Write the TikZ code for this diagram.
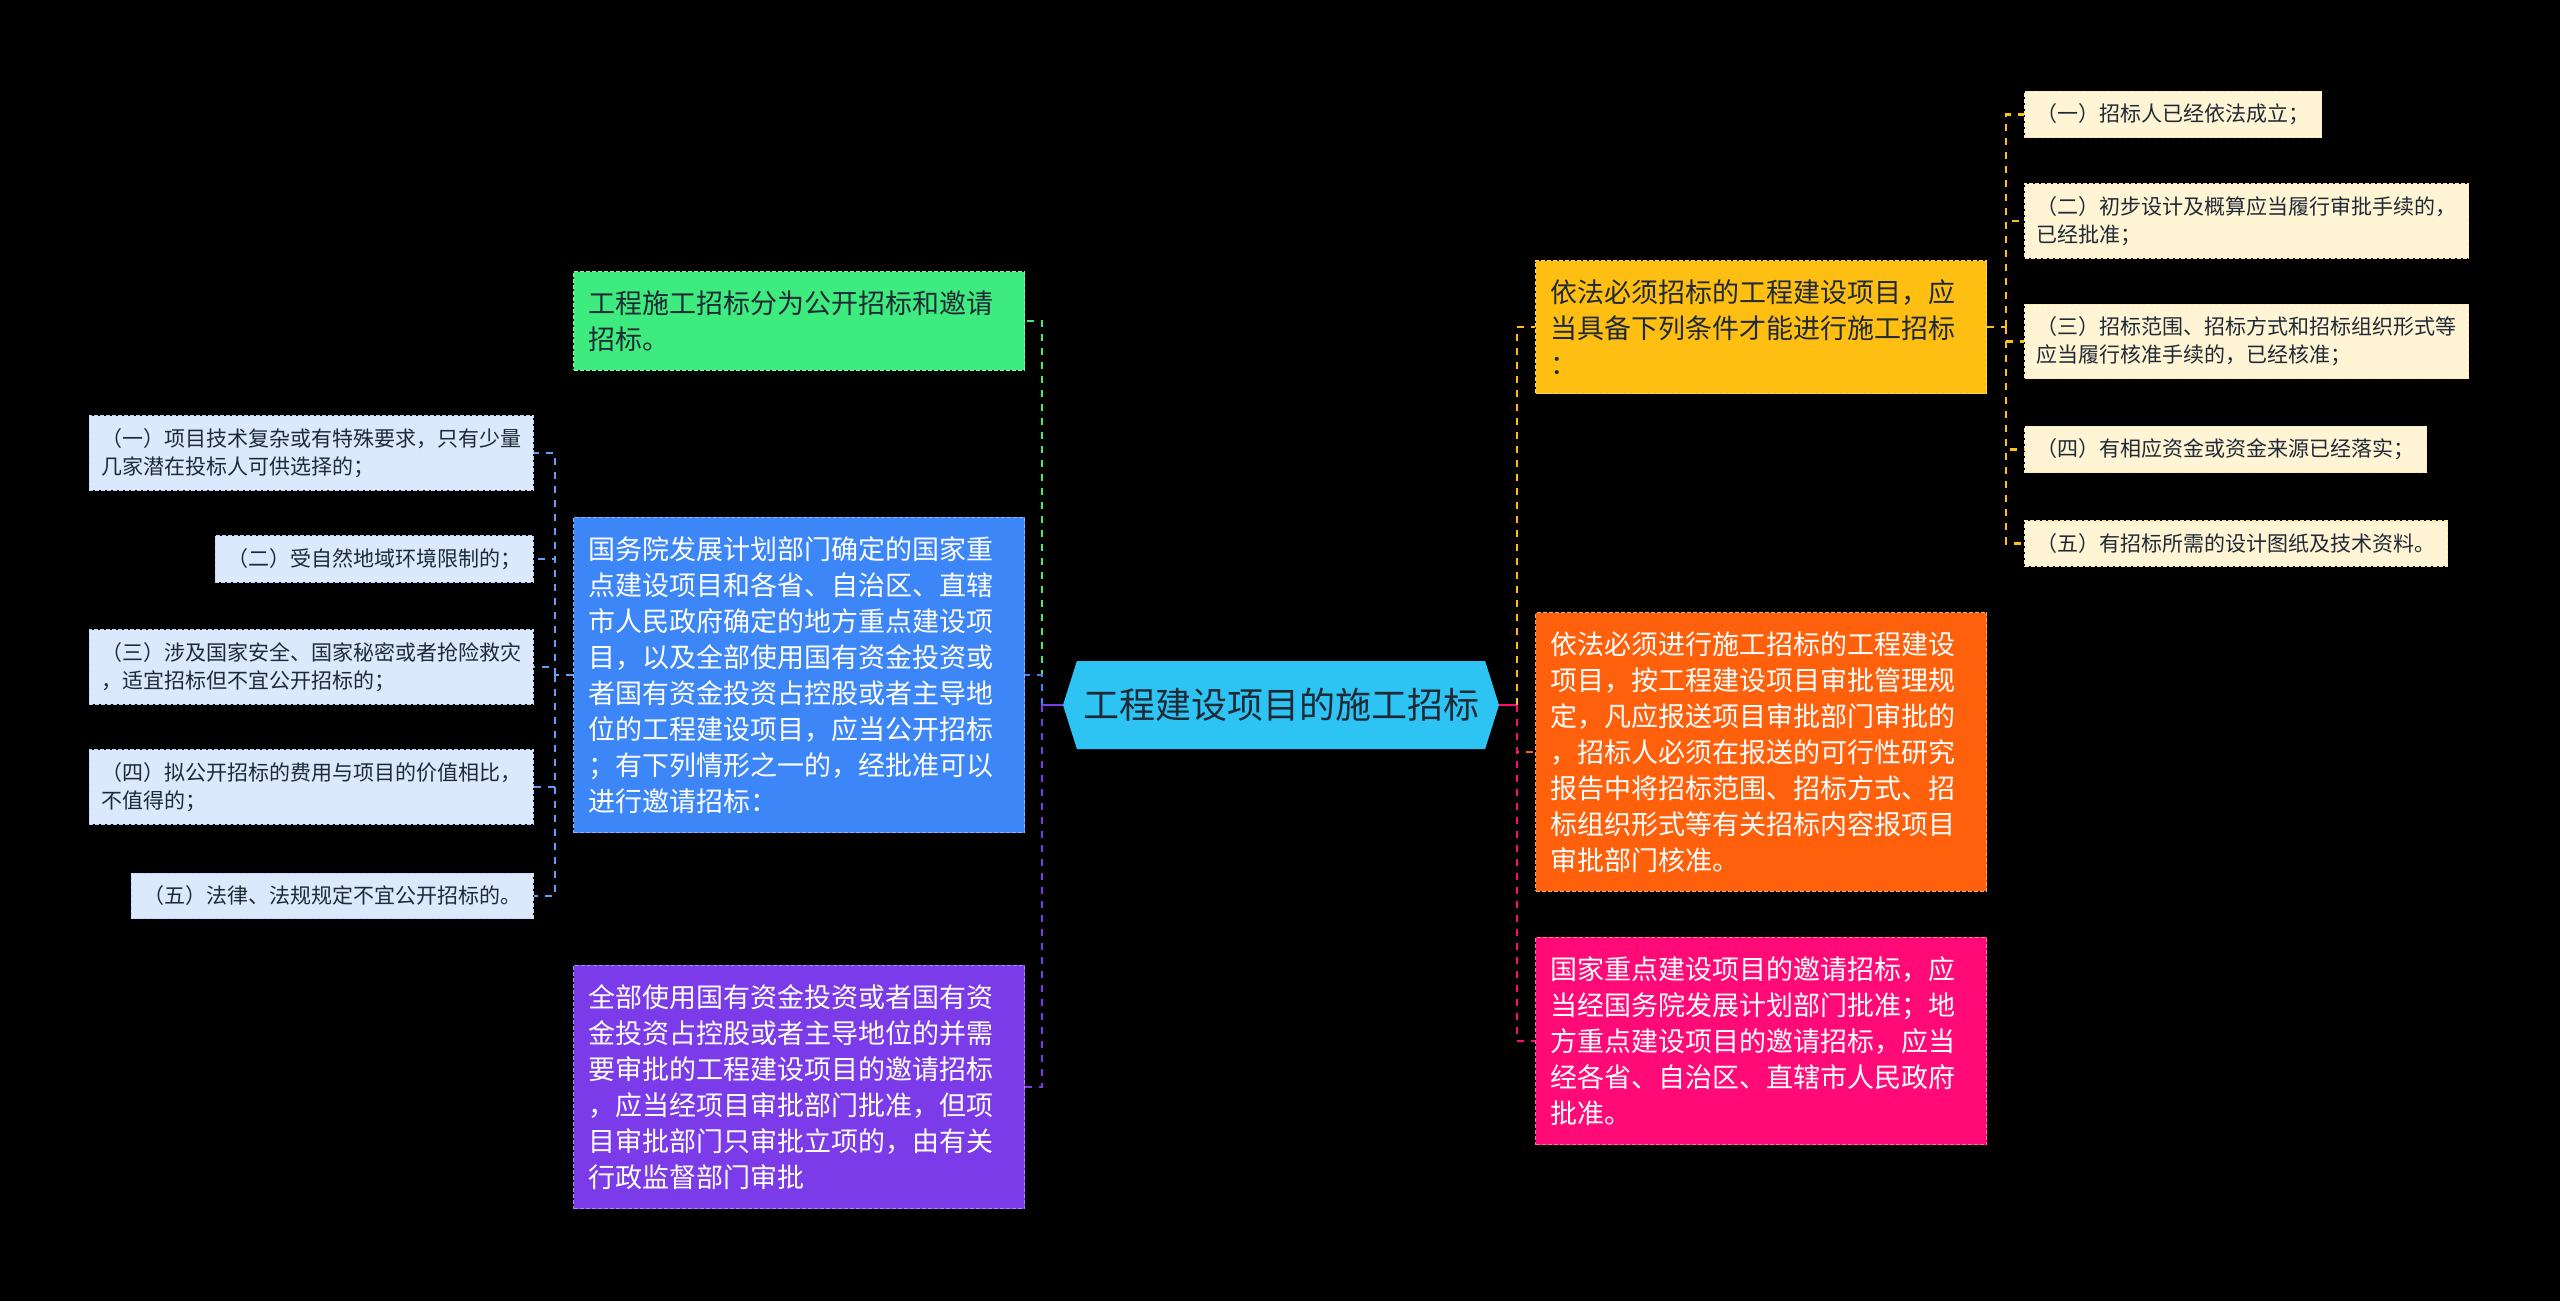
\documentclass[tikz,border=0pt]{standalone}
\usepackage{fontspec}
\setmainfont{Noto Sans CJK SC}
\usepackage{xcolor}
\usetikzlibrary{shapes.symbols}
\definecolor{croot}{HTML}{2DC3F2}
\definecolor{cgreen}{HTML}{3DEB7E}
\definecolor{cblue}{HTML}{3D86F7}
\definecolor{cpurple}{HTML}{7B3BE8}
\definecolor{cyellow}{HTML}{FFBE12}
\definecolor{corange}{HTML}{FF600C}
\definecolor{cpink}{HTML}{FF0A77}
\definecolor{clight}{HTML}{DCE8FC}
\definecolor{ccream}{HTML}{FFF4D4}
\definecolor{cdark}{HTML}{1F2A36}

\begin{document}
\begin{tikzpicture}[x=0.5pt,y=-0.5pt,
        topic/.style={signal,signal to=west and east,signal pointer angle=145,fill=croot,text=cdark,minimum width=218pt,minimum height=44pt,inner sep=0pt,font=\fontsize{18pt}{22pt}\selectfont},
        mainbox/.style={rectangle,draw,dash pattern=on 2pt off 1pt,line width=0.6pt,text width=210.5pt,inner xsep=7.5pt,inner ysep=9.5pt,align=left,anchor=west,font=\fontsize{13.5pt}{18pt}\selectfont},
        subbox/.style={rectangle,draw,dash pattern=on 2pt off 1pt,line width=0.6pt,inner xsep=6pt,inner ysep=6.3pt,align=left,text=cdark,font=\fontsize{10.5pt}{14pt}\selectfont},
        link/.style={dash pattern=on 3.5pt off 3.5pt,line width=1.4pt}]
        \fill[black] (0,0) rectangle (2560,1301);
        \node[topic] (root) at (1281,705) {工程建设项目的施工招标};
        \node[mainbox,fill=cgreen,draw=cgreen!60!white,text=cdark] (kinds) at (573,321) {工程施工招标分为公开招标和邀请\\招标。};
        \node[mainbox,fill=cblue,draw=cblue!60!white,text=white] (public) at (573,675) {国务院发展计划部门确定的国家重\\点建设项目和各省、自治区、直辖\\市人民政府确定的地方重点建设项\\目，以及全部使用国有资金投资或\\者国有资金投资占控股或者主导地\\位的工程建设项目，应当公开招标\\；有下列情形之一的，经批准可以\\进行邀请招标：};
        \node[mainbox,fill=cpurple,draw=cpurple!60!white,text=white] (invite) at (573,1087) {全部使用国有资金投资或者国有资\\金投资占控股或者主导地位的并需\\要审批的工程建设项目的邀请招标\\，应当经项目审批部门批准，但项\\目审批部门只审批立项的，由有关\\行政监督部门审批};
        \node[mainbox,fill=cyellow,draw=cyellow!60!white,text=cdark] (cond) at (1535,327) {依法必须招标的工程建设项目，应\\当具备下列条件才能进行施工招标\\：};
        \node[mainbox,fill=corange,draw=corange!60!white,text=white] (approve) at (1535,752) {依法必须进行施工招标的工程建设\\项目，按工程建设项目审批管理规\\定，凡应报送项目审批部门审批的\\，招标人必须在报送的可行性研究\\报告中将招标范围、招标方式、招\\标组织形式等有关招标内容报项目\\审批部门核准。};
        \node[mainbox,fill=cpink,draw=cpink!60!white,text=white] (state) at (1535,1041) {国家重点建设项目的邀请招标，应\\当经国务院发展计划部门批准；地\\方重点建设项目的邀请招标，应当\\经各省、自治区、直辖市人民政府\\批准。};
        \node[subbox,fill=clight,draw=cblue!35!white,anchor=east] (pc1) at (534,453) {（一）项目技术复杂或有特殊要求，只有少量\\几家潜在投标人可供选择的；};
        \node[subbox,fill=clight,draw=cblue!35!white,anchor=east] (pc2) at (534,559) {（二）受自然地域环境限制的；};
        \node[subbox,fill=clight,draw=cblue!35!white,anchor=east] (pc3) at (534,667) {（三）涉及国家安全、国家秘密或者抢险救灾\\，适宜招标但不宜公开招标的；};
        \node[subbox,fill=clight,draw=cblue!35!white,anchor=east] (pc4) at (534,787) {（四）拟公开招标的费用与项目的价值相比，\\不值得的；};
        \node[subbox,fill=clight,draw=cblue!35!white,anchor=east] (pc5) at (534,896) {（五）法律、法规规定不宜公开招标的。};
        \node[subbox,fill=ccream,draw=cyellow!35!white,anchor=west] (yc1) at (2024,114.5) {（一）招标人已经依法成立；};
        \node[subbox,fill=ccream,draw=cyellow!35!white,anchor=west] (yc2) at (2024,221) {（二）初步设计及概算应当履行审批手续的，\\已经批准；};
        \node[subbox,fill=ccream,draw=cyellow!35!white,anchor=west] (yc3) at (2024,341.5) {（三）招标范围、招标方式和招标组织形式等\\应当履行核准手续的，已经核准；};
        \node[subbox,fill=ccream,draw=cyellow!35!white,anchor=west] (yc4) at (2024,449.5) {（四）有相应资金或资金来源已经落实；};
        \node[subbox,fill=ccream,draw=cyellow!35!white,anchor=west] (yc5) at (2024,543.5) {（五）有招标所需的设计图纸及技术资料。};
        \coordinate (lj) at (1042,705);
        \coordinate (rj) at (1517,705);
        \coordinate (bj) at (555,675);
        \coordinate (yj) at (2006,327);
        \draw[cpurple,line width=1.4pt] (root.west) -- (lj);
        \draw[cpink,line width=1.4pt] (root.east) -- (rj);
        \draw[link,cgreen] (lj) |- (kinds);
        \draw[link,cblue] (lj) |- (public);
        \draw[link,cpurple] (lj) |- (invite);
        \draw[link,cyellow] (rj) |- (cond);
        \draw[link,corange] (rj) |- (approve);
        \draw[link,cpink] (rj) |- (state);
        \draw[link,cblue!80!white] (public) -- (bj);
        \foreach \i in {1,...,5}
            \draw[link,cblue!80!white] (bj) |- (pc\i);
        \draw[link,cyellow] (cond) -- (yj);
        \foreach \i in {1,...,5}
            \draw[link,cyellow] (yj) |- (yc\i);
    \end{tikzpicture}
\end{document}
